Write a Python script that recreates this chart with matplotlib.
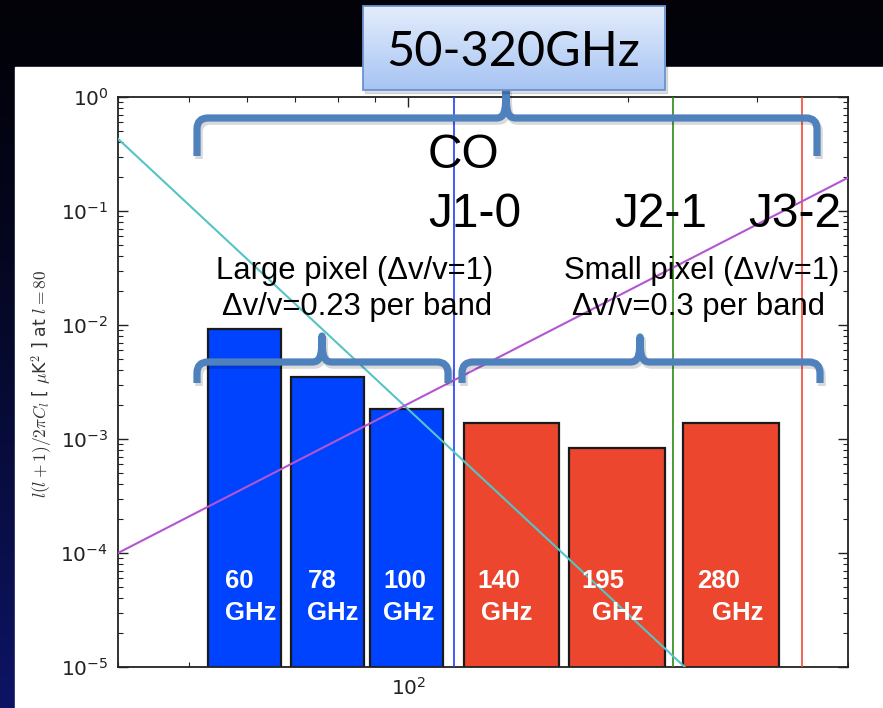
import numpy as np
import matplotlib
matplotlib.use("Agg")
import matplotlib.pyplot as plt
from matplotlib.path import Path
from matplotlib.patches import PathPatch, Rectangle
from matplotlib.transforms import Affine2D
from matplotlib.ticker import LogLocator, NullFormatter

W, H = 883, 708

# Observing bands: centre frequency (GHz), fractional bandwidth, signal level
large_centres = [60, 78, 100]
large_frac = 0.23
large_levels = [9.2e-3, 3.5e-3, 1.83e-3]

small_centres = [140, 195, 280]
small_frac = 0.30
small_levels = [1.37e-3, 8.4e-4, 1.37e-3]

# CO rotational lines (GHz)
co_names = ["J1-0", "J2-1", "J3-2"]
co_freqs = [115.27, 230.54, 345.80]

# Foreground power laws, given at two frequencies each
sync_nu = [40.0, 239.0]
sync_level = [0.43, 1.0e-5]
dust_nu = [40.0, 400.0]
dust_level = [1.0e-4, 0.196]

plt.rcParams["mathtext.fontset"] = "cm"
plt.rcParams["axes.unicode_minus"] = False

fig = plt.figure(figsize=(W / 100, H / 100), dpi=100)

# ---- slide background -------------------------------------------------------
bg = fig.add_axes([0, 0, 1, 1], zorder=-5)
bg.set_axis_off()
t = (np.linspace(0, 1, 256) ** 1.3)[:, None]
c0 = np.array([0x02, 0x02, 0x08]) / 255
c1 = np.array([0x0d, 0x14, 0x66]) / 255
grad = (c0 + (c1 - c0) * t)[:, None, :].repeat(4, axis=1)
bg.imshow(grad, extent=[0, W, H, 0], aspect="auto", interpolation="bilinear")
bg.add_patch(Rectangle((15, 67), W - 15, H - 67, color="white"))
bg.set_xlim(0, W)
bg.set_ylim(H, 0)

# ---- main plot --------------------------------------------------------------
ax = fig.add_axes([118 / W, 1 - 667 / H, 730 / W, 570 / H])
ax.set_xscale("log")
ax.set_yscale("log")
ax.set_xlim(40, 400)
ax.set_ylim(1e-5, 1)

floor = 1e-7
for centres, frac, levels, col in [
    (large_centres, large_frac, large_levels, "#0043ff"),
    (small_centres, small_frac, small_levels, "#ec462f"),
]:
    c = np.array(centres, float)
    lefts = c * (1 - frac / 2)
    widths = c * frac
    ax.bar(lefts, np.array(levels) - floor, width=widths, bottom=floor,
           align="edge", color=col, edgecolor="#1a1a1a", linewidth=1.6,
           zorder=2)

for f, col in zip(co_freqs, ["#1f3dff", "#2f8a12", "#f24a38"]):
    ax.axvline(f, color=col, lw=1.2, zorder=3)

ax.plot(sync_nu, sync_level, color="#55c4c4", lw=1.5, zorder=4)
ax.plot(dust_nu, dust_level, color="#b455d2", lw=1.5, zorder=4)

ax.xaxis.set_major_locator(LogLocator(base=10, numticks=10))
ax.xaxis.set_minor_locator(LogLocator(base=10, subs=np.arange(2, 10), numticks=20))
ax.xaxis.set_minor_formatter(NullFormatter())
ax.yaxis.set_minor_locator(LogLocator(base=10, subs=np.arange(2, 10), numticks=20))
ax.yaxis.set_minor_formatter(NullFormatter())
ax.tick_params(which="both", direction="in", top=True, right=True,
               labelsize=14.5, labelcolor="#222222", color="#222222")
ax.tick_params(which="major", length=7, width=1.0, pad=7)
ax.tick_params(which="minor", length=3.5, width=0.8)
for s in ax.spines.values():
    s.set_linewidth(1.3)
    s.set_color("#222222")

ax.set_ylabel(r"$l(l+1)/2\pi C_l$ [ $\mu$K$^2$ ] at $l=80$", fontsize=12.5,
              color="#333333")
ax.yaxis.set_label_coords(-0.086, 0.497)

# ---- slide annotations (pixel coordinates) ----------------------------------
ov = fig.add_axes([0, 0, 1, 1], zorder=10)
ov.set_axis_off()
ov.patch.set_alpha(0)

BRACE = "#4f81bd"


def brace(x0, x1, xt, yl, ye, yt, r=11):
    verts = [(x0, ye), (x0, yl + r), (x0, yl), (x0 + r, yl),
             (xt - 10, yl), (xt - 2, yl), (xt, yl - 5), (xt, yt),
             (xt, yl - 5), (xt + 2, yl), (xt + 10, yl),
             (x1 - r, yl), (x1, yl), (x1, yl + r), (x1, ye)]
    codes = [Path.MOVETO, Path.LINETO, Path.CURVE3, Path.CURVE3,
             Path.LINETO, Path.CURVE4, Path.CURVE4, Path.CURVE4,
             Path.CURVE4, Path.CURVE4, Path.CURVE4,
             Path.LINETO, Path.CURVE3, Path.CURVE3, Path.LINETO]
    p = Path(verts, codes)
    shadow = Affine2D().translate(2, 3) + ov.transData
    ov.add_patch(PathPatch(p, fc="none", ec="#000000", lw=5.5, alpha=0.15,
                           transform=shadow, capstyle="butt", joinstyle="round"))
    ov.add_patch(PathPatch(p, fc="none", ec=BRACE, lw=5.2,
                           capstyle="butt", joinstyle="round"))


brace(197, 817, 506, 118, 156, 90)
brace(197, 448, 322, 362, 383, 336)
brace(462, 820, 640, 362, 383, 337)

# title box with a soft vertical gradient
bx0, bx1, by0, by1 = 362.5, 665, 6, 90
ov.add_patch(Rectangle((bx0 + 2, by0 + 3), bx1 - bx0, by1 - by0,
                       color="#000000", alpha=0.12, zorder=1))
top_c = np.array([0xe4, 0xed, 0xfc]) / 255
bot_c = np.array([0xa6, 0xc4, 0xf3]) / 255
tb = np.linspace(0, 1, 128)[:, None]
box_grad = (top_c + (bot_c - top_c) * tb)[:, None, :].repeat(4, axis=1)
ov.imshow(box_grad, extent=[bx0, bx1, by1, by0], aspect="auto",
          interpolation="bilinear", zorder=2)
ov.add_patch(Rectangle((bx0, by0), bx1 - bx0, by1 - by0, fc="none",
                       ec="#6a93cf", lw=1.3, zorder=3))
ov.text((bx0 + bx1) / 2 - 1, 66, "50-320GHz", ha="center", va="baseline",
        fontsize=35, family="Lato", color="black", zorder=4)

big = dict(fontsize=34.5, family="Liberation Sans", color="black",
           va="baseline", ha="left")
ov.text(428, 168, "CO", **big)
for name, x in zip(co_names, [428, 614, 748]):
    ov.text(x, 227, name, **big)

mid = dict(fontsize=22.3, family="Liberation Sans", color="black",
           va="baseline", ha="left")
ov.text(216.5, 279, "Large pixel (\u0394v/v=1)", **mid)
ov.text(222.5, 315, "\u0394v/v=0.23 per band", **mid)
ov.text(564, 279, "Small pixel (\u0394v/v=1)", **mid)
ov.text(571.5, 315, "\u0394v/v=0.3 per band", **mid)

lab = dict(fontsize=18.5, family="Liberation Sans", weight="bold",
           color="white", va="baseline", ha="left")
band_labels = [str(c) for c in large_centres + small_centres]
num_x = [225, 308, 383, 477.5, 581, 697.5]
ghz_x = [225, 307, 383, 481, 592, 712]
for s, xn, xg in zip(band_labels, num_x, ghz_x):
    ov.text(xn, 588, s, **lab)
    ov.text(xg, 620, "GHz", **lab)

ov.set_xlim(0, W)
ov.set_ylim(H, 0)

fig.savefig("out.png", dpi=100)
